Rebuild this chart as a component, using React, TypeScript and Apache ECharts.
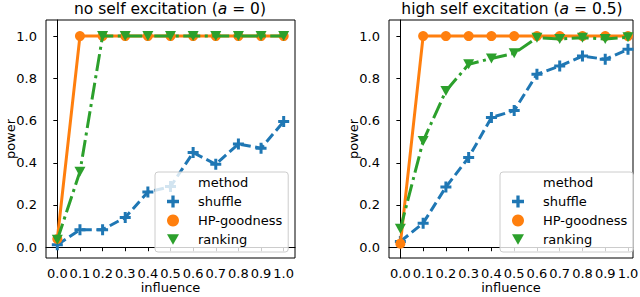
import React, { useEffect, useRef } from "react";
import * as echarts from "echarts";

const influence = ["0.0", "0.1", "0.2", "0.3", "0.4", "0.5", "0.6", "0.7", "0.8", "0.9", "1.0"];
const powerTicks = ["0.0", "0.2", "0.4", "0.6", "0.8", "1.0"];

// no self excitation (a = 0)
const shuffleA0 = [0.012, 0.083, 0.083, 0.141, 0.261, 0.287, 0.448, 0.393, 0.489, 0.469, 0.595];
const hpA0 = [0.039, 1, 1, 1, 1, 1, 1, 1, 1, 1, 1];
const rankingA0 = [0.035, 0.358, 1, 1, 1, 1, 1, 1, 1, 1, 1];

// high self excitation (a = 0.5)
const shuffleA5 = [0.027, 0.114, 0.285, 0.425, 0.614, 0.647, 0.819, 0.858, 0.905, 0.89, 0.937];
const hpA5 = [0.017, 1, 1, 1, 1, 1, 1, 1, 1, 1, 1];
const rankingA5 = [0.087, 0.503, 0.74, 0.866, 0.894, 0.918, 0.992, 0.986, 0.992, 0.986, 0.994];

const methods = ["shuffle", "HP-goodness", "ranking"];

const BLUE = "#1f77b4";
const ORANGE = "#ff7f0e";
const GREEN = "#2ca02c";
const FONT = "DejaVu Sans";
const FS = 13;

const PLUS = "path://M4,0H7V4H11V7H7V11H4V7H0V4H4Z";
const TRI_DOWN = "path://M0,0L10,0L5,8.66Z";

export default function App() {
  const ref = useRef<HTMLDivElement>(null);

  useEffect(() => {
    if (!ref.current) return;
    const chart = echarts.init(ref.current, undefined, { renderer: "svg" });

    const xVals = influence.map((s) => parseFloat(s));
    const yVals = powerTicks.map((s) => parseFloat(s));
    const pairs = (ys: number[]) => xVals.map((x, i) => [x, ys[i]]);

    const xAxisBase = (gridIndex: number, max: number) => ({
      type: "value" as const,
      gridIndex,
      min: -0.05,
      max,
      name: "influence",
      nameLocation: "middle" as const,
      nameGap: 22,
      nameMoveOverlap: false,
      nameTextStyle: { fontFamily: FONT, fontSize: FS, color: "#000", lineHeight: 14 },
      axisLine: { show: true, lineStyle: { color: "#000", width: 1 } },
      axisTick: { show: true, length: 4, customValues: xVals, lineStyle: { color: "#000" } },
      axisLabel: {
        customValues: xVals,
        formatter: (v: number) => v.toFixed(1),
        fontFamily: FONT,
        fontSize: FS,
        color: "#000",
        margin: 9,
        showMinLabel: true,
        showMaxLabel: true,
        hideOverlap: false,
      },
      splitLine: { show: false },
    });

    const yAxisBase = (gridIndex: number) => ({
      type: "value" as const,
      gridIndex,
      min: -0.051,
      max: 1.076,
      name: "power",
      nameLocation: "middle" as const,
      nameGap: 29,
      nameMoveOverlap: false,
      nameTextStyle: { fontFamily: FONT, fontSize: FS, color: "#000", lineHeight: 14 },
      axisLine: { show: true, lineStyle: { color: "#000", width: 1 } },
      axisTick: { show: true, length: 4, customValues: yVals, lineStyle: { color: "#000" } },
      axisLabel: {
        customValues: yVals,
        formatter: (v: number) => v.toFixed(1),
        fontFamily: FONT,
        fontSize: FS,
        color: "#000",
        margin: 9,
        showMinLabel: true,
        showMaxLabel: true,
      },
      splitLine: { show: false },
    });

    const mkSeries = (idx: number, shuffle: number[], hp: number[], ranking: number[]) => [
      {
        name: "shuffle",
        type: "line",
        xAxisIndex: idx,
        yAxisIndex: idx,
        data: pairs(shuffle),
        symbol: PLUS,
        symbolSize: 11,
        itemStyle: { color: BLUE },
        lineStyle: { color: BLUE, width: 3, type: [10, 4.5], cap: "butt" },
        z: 2,
      },
      {
        name: "HP-goodness",
        type: "line",
        xAxisIndex: idx,
        yAxisIndex: idx,
        data: pairs(hp),
        symbol: "circle",
        symbolSize: 10,
        itemStyle: { color: ORANGE },
        lineStyle: { color: ORANGE, width: 3, type: "solid" },
        z: 3,
      },
      {
        name: "ranking",
        type: "line",
        xAxisIndex: idx,
        yAxisIndex: idx,
        data: pairs(ranking),
        symbol: TRI_DOWN,
        symbolSize: [11, 10],
        itemStyle: { color: GREEN },
        lineStyle: { color: GREEN, width: 3, type: [17, 4.5, 3, 4.5], cap: "butt" },
        z: 4,
      },
    ];

    const legendBase = (left: number) => ({
      orient: "vertical" as const,
      left,
      top: 172,
      padding: [4, 6, 6, 12],
      itemWidth: 12,
      itemHeight: 13,
      itemGap: 6,
      backgroundColor: "rgba(255,255,255,0.8)",
      borderColor: "#cccccc",
      borderWidth: 1,
      borderRadius: 3,
      selectedMode: false,
      textStyle: { fontFamily: FONT, fontSize: FS, color: "#000", padding: [0, 0, 0, 14], lineHeight: 13 },
      data: [
        { name: "method", icon: "none" },
        { name: methods[0], icon: PLUS, itemStyle: { color: BLUE } },
        { name: methods[1], icon: "circle", itemStyle: { color: ORANGE } },
        { name: methods[2], icon: TRI_DOWN, itemStyle: { color: GREEN } },
      ],
    });

    const titleBase = (left: number, a: string[]) => ({
      text: `{n|${a[0]}}{i|a}{n| = ${a[1]})}`,
      left,
      top: 1,
      padding: 0,
      textAlign: "center" as const,
      textStyle: {
        fontFamily: FONT,
        fontSize: 15.5,
        fontWeight: "normal" as const,
        color: "#000",
        rich: {
          n: { fontFamily: FONT, fontSize: 15.5, color: "#000" },
          i: { fontFamily: FONT, fontSize: 15.5, fontStyle: "italic", color: "#000" },
        },
      },
    });

    const gridBase = { top: 20, height: 238, show: true, borderColor: "#000", borderWidth: 1, backgroundColor: "transparent", containLabel: false, outerBoundsMode: "none" };

    chart.setOption({
      animation: false,
      backgroundColor: "#fff",
      title: [
        titleBase(170, ["no self excitation (", "0"]),
        titleBase(512, ["high self excitation (", "0.5"]),
      ],
      grid: [
        { ...gridBase, left: 46, width: 249 },
        { ...gridBase, left: 389, width: 244 },
      ],
      xAxis: [xAxisBase(0, 1.05), xAxisBase(1, 1.022)],
      yAxis: [yAxisBase(0), yAxisBase(1)],
      legend: [legendBase(155), legendBase(500)],
      series: [
        { name: "method", type: "line", data: [], xAxisIndex: 0, yAxisIndex: 0, symbol: "none", lineStyle: { width: 0 } },
        ...mkSeries(0, shuffleA0, hpA0, rankingA0),
        ...mkSeries(1, shuffleA5, hpA5, rankingA5),
      ],
    });

    return () => chart.dispose();
  }, []);

  return <div ref={ref} style={{ width: 640, height: 297, position: "absolute", left: 0, top: 0 }} />;
}
